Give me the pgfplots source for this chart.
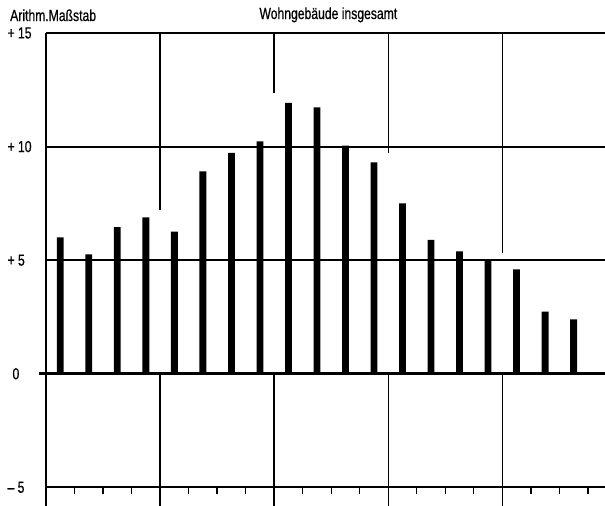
\documentclass[border=0pt]{standalone}
\usepackage{fontspec}
\setmainfont{Liberation Sans}[FakeStretch=0.76, FakeBold=0.6]
\usepackage{pgfplots}
\pgfplotsset{compat=1.18}

\begin{document}
\begin{tikzpicture}[font=\fontsize{16}{17}\selectfont]
\begin{axis}[
  name=ax, scale only axis,
  width=558.6pt, height=472.2pt,
  xmin=0, xmax=19.6, ymin=-5.8, ymax=15,
  axis line style={draw=none},
  xtick=\empty,
  ytick={-5,0,5,10,15},
  yticklabels={{– 5},{\hspace{5pt}0},{+ 5},{+ 10},{+ 15}},
  yticklabel style={anchor=west, xshift=-42pt, font=\fontsize{16}{17}\selectfont},
  major tick length=0pt,
  clip=false,
]
% horizontal rules
\addplot[black, line width=1.8pt] coordinates {(0,15) (19.6,15)};
\addplot[black, line width=1.8pt] coordinates {(0,10) (19.6,10)};
\addplot[black, line width=1.8pt] coordinates {(0,5) (19.6,5)};
\addplot[black, line width=1.8pt] coordinates {(0,-5) (19.6,-5)};
% vertical rules (upper parts are broken off in the original)
\addplot[black, line width=1.8pt] coordinates {(0,15) (0,-5.8)};
\addplot[black, line width=1.5pt] coordinates {(4,15) (4,7.22)};
\addplot[black, line width=1.5pt] coordinates {(8,15) (8,12.38)};
\addplot[black, line width=1.5pt] coordinates {(12,15) (12,9.74)};
\addplot[black, line width=1.5pt] coordinates {(16,15) (16,5.33)};
\addplot[black, line width=1.5pt] coordinates {(4,0) (4,-5.8)};
\addplot[black, line width=1.5pt] coordinates {(8,0) (8,-5.8)};
\addplot[black, line width=1.5pt] coordinates {(12,0) (12,-5.8)};
\addplot[black, line width=1.5pt] coordinates {(16,0) (16,-5.8)};
% small ticks below the -5 line
\addplot[black, line width=1.3pt, unbounded coords=jump] coordinates {
  (1,-5) (1,-5.31) (nan,nan) (2,-5) (2,-5.31) (nan,nan) (3,-5) (3,-5.31) (nan,nan)
  (5,-5) (5,-5.31) (nan,nan) (6,-5) (6,-5.31) (nan,nan) (7,-5) (7,-5.31) (nan,nan)
  (9,-5) (9,-5.31) (nan,nan) (10,-5) (10,-5.31) (nan,nan) (11,-5) (11,-5.31) (nan,nan)
  (13,-5) (13,-5.31) (nan,nan) (14,-5) (14,-5.31) (nan,nan) (15,-5) (15,-5.31) (nan,nan)
  (17,-5) (17,-5.31) (nan,nan) (18,-5) (18,-5.31) (nan,nan) (19,-5) (19,-5.31)
};
% bars
\addplot[ybar, bar width=6.8pt, fill=black, draw=none] coordinates {
  (0.5,6.0) (1.5,5.26) (2.5,6.45) (3.5,6.89) (4.5,6.26) (5.5,8.91)
  (6.5,9.72) (7.5,10.23) (8.5,11.92) (9.5,11.73) (10.5,10.04) (11.5,9.31)
  (12.5,7.5) (13.5,5.89) (14.5,5.39) (15.5,4.98) (16.5,4.6) (17.5,2.74)
  (18.5,2.39)
};
% zero line
\addplot[black, line width=2.6pt] coordinates {(-0.25,0) (19.6,0)};
\node[anchor=base, inner sep=0pt] at (axis cs:9.9,15) [yshift=14pt] {Wohngebäude insgesamt};
\node[anchor=base west, inner sep=0pt] at (rel axis cs:0,1) [xshift=-36pt, yshift=12pt] {Arithm.Maßstab};
\end{axis}
\pgfresetboundingbox
\path ([xshift=-46pt]ax.south west) rectangle ([yshift=33pt]ax.north east);
\end{tikzpicture}
\end{document}
